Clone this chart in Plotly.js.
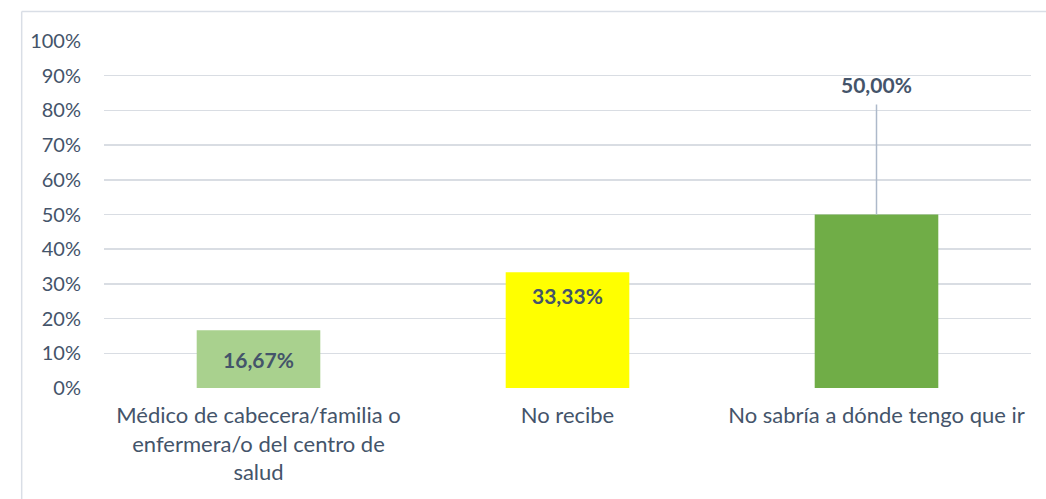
<!DOCTYPE html>
<html>
<head>
<meta charset="utf-8">
<script src="https://cdn.plot.ly/plotly-3.0.1.min.js"></script>
<style>
html,body{margin:0;padding:0;background:#fff;}
#chart{width:1046px;height:499px;}
</style>
</head>
<body>
<div id="chart"></div>
<script>
const categories = [
  "Médico de cabecera/familia o<br>enfermera/o del centro de<br>salud",
  "No recibe",
  "No sabría a dónde tengo que ir"
];
const values = [16.67, 33.33, 50.00];
const labels = ["16,67%", "33,33%", "50,00%"];
const colors = ["#A9D18E", "#FFFF00", "#70AD47"];
const tickVals = [0,10,20,30,40,50,60,70,80,90,100];
const tickText = ["0%","10%","20%","30%","40%","50%","60%","70%","80%","90%","100%"];

const textColor = "#44546A";
const fontFam = "Lato, 'Open Sans', sans-serif";
const labelFont = {family: fontFam, size: 21, color: textColor};

const trace = {
  type: "bar",
  x: categories,
  y: values,
  marker: {color: colors},
  width: 0.4,
  text: [labels[0], "", ""],
  texttemplate: ["<b>%{text}</b>", "", ""],
  textposition: "inside",
  insidetextanchor: "middle",
  textfont: labelFont,
  hoverinfo: "none",
  cliponaxis: false
};

const labelOffset = 37.5;   // manually moved label above the third bar
const leaderTop = 31.7;

const layout = {
  width: 1046,
  height: 499,
  margin: {l: 104, r: 15, t: 41, b: 111},
  paper_bgcolor: "#ffffff",
  plot_bgcolor: "#ffffff",
  showlegend: false,
  bargap: 0.6,
  font: {family: fontFam, color: textColor, size: 20},
  xaxis: {
    type: "category",
    tickfont: {family: fontFam, size: 22, color: textColor},
    showgrid: false,
    zeroline: false,
    showline: false,
    ticks: "",
    ticklabelstandoff: 12,
    fixedrange: true
  },
  yaxis: {
    range: [0, 100],
    tickvals: tickVals,
    ticktext: tickText,
    tickfont: {family: fontFam, size: 20, color: textColor},
    showgrid: true,
    gridcolor: "#D9DDE3",
    gridwidth: 1.5,
    zeroline: false,
    showline: false,
    ticks: "",
    ticklabelstandoff: 22,
    fixedrange: true
  },
  annotations: [
    {
      x: categories[1], y: values[1], xref: "x", yref: "y",
      text: "<b>" + labels[1] + "</b>", showarrow: false,
      yanchor: "top", yshift: -9,
      font: labelFont
    },
    {
      x: categories[2], y: values[2] + labelOffset, xref: "x", yref: "y",
      text: "<b>" + labels[2] + "</b>", showarrow: false,
      font: labelFont
    }
  ],
  shapes: [
    {type: "line", xref: "x", yref: "y", x0: 2, x1: 2, y0: values[2], y1: values[2] + leaderTop,
     line: {color: "#ADB9CA", width: 1.5}},
    {type: "line", xref: "paper", yref: "paper", x0: -0.0888, x1: 1.02, y0: 1.0852, y1: 1.0852,
     line: {color: "#D9DEE6", width: 1.5}},
    {type: "line", xref: "paper", yref: "paper", x0: -0.0888, x1: -0.0888, y0: 1.0852, y1: -0.35,
     line: {color: "#D9DEE6", width: 1.5}}
  ]
};

Plotly.newPlot("chart", [trace], layout, {displayModeBar: false, staticPlot: true});
</script>
</body>
</html>
